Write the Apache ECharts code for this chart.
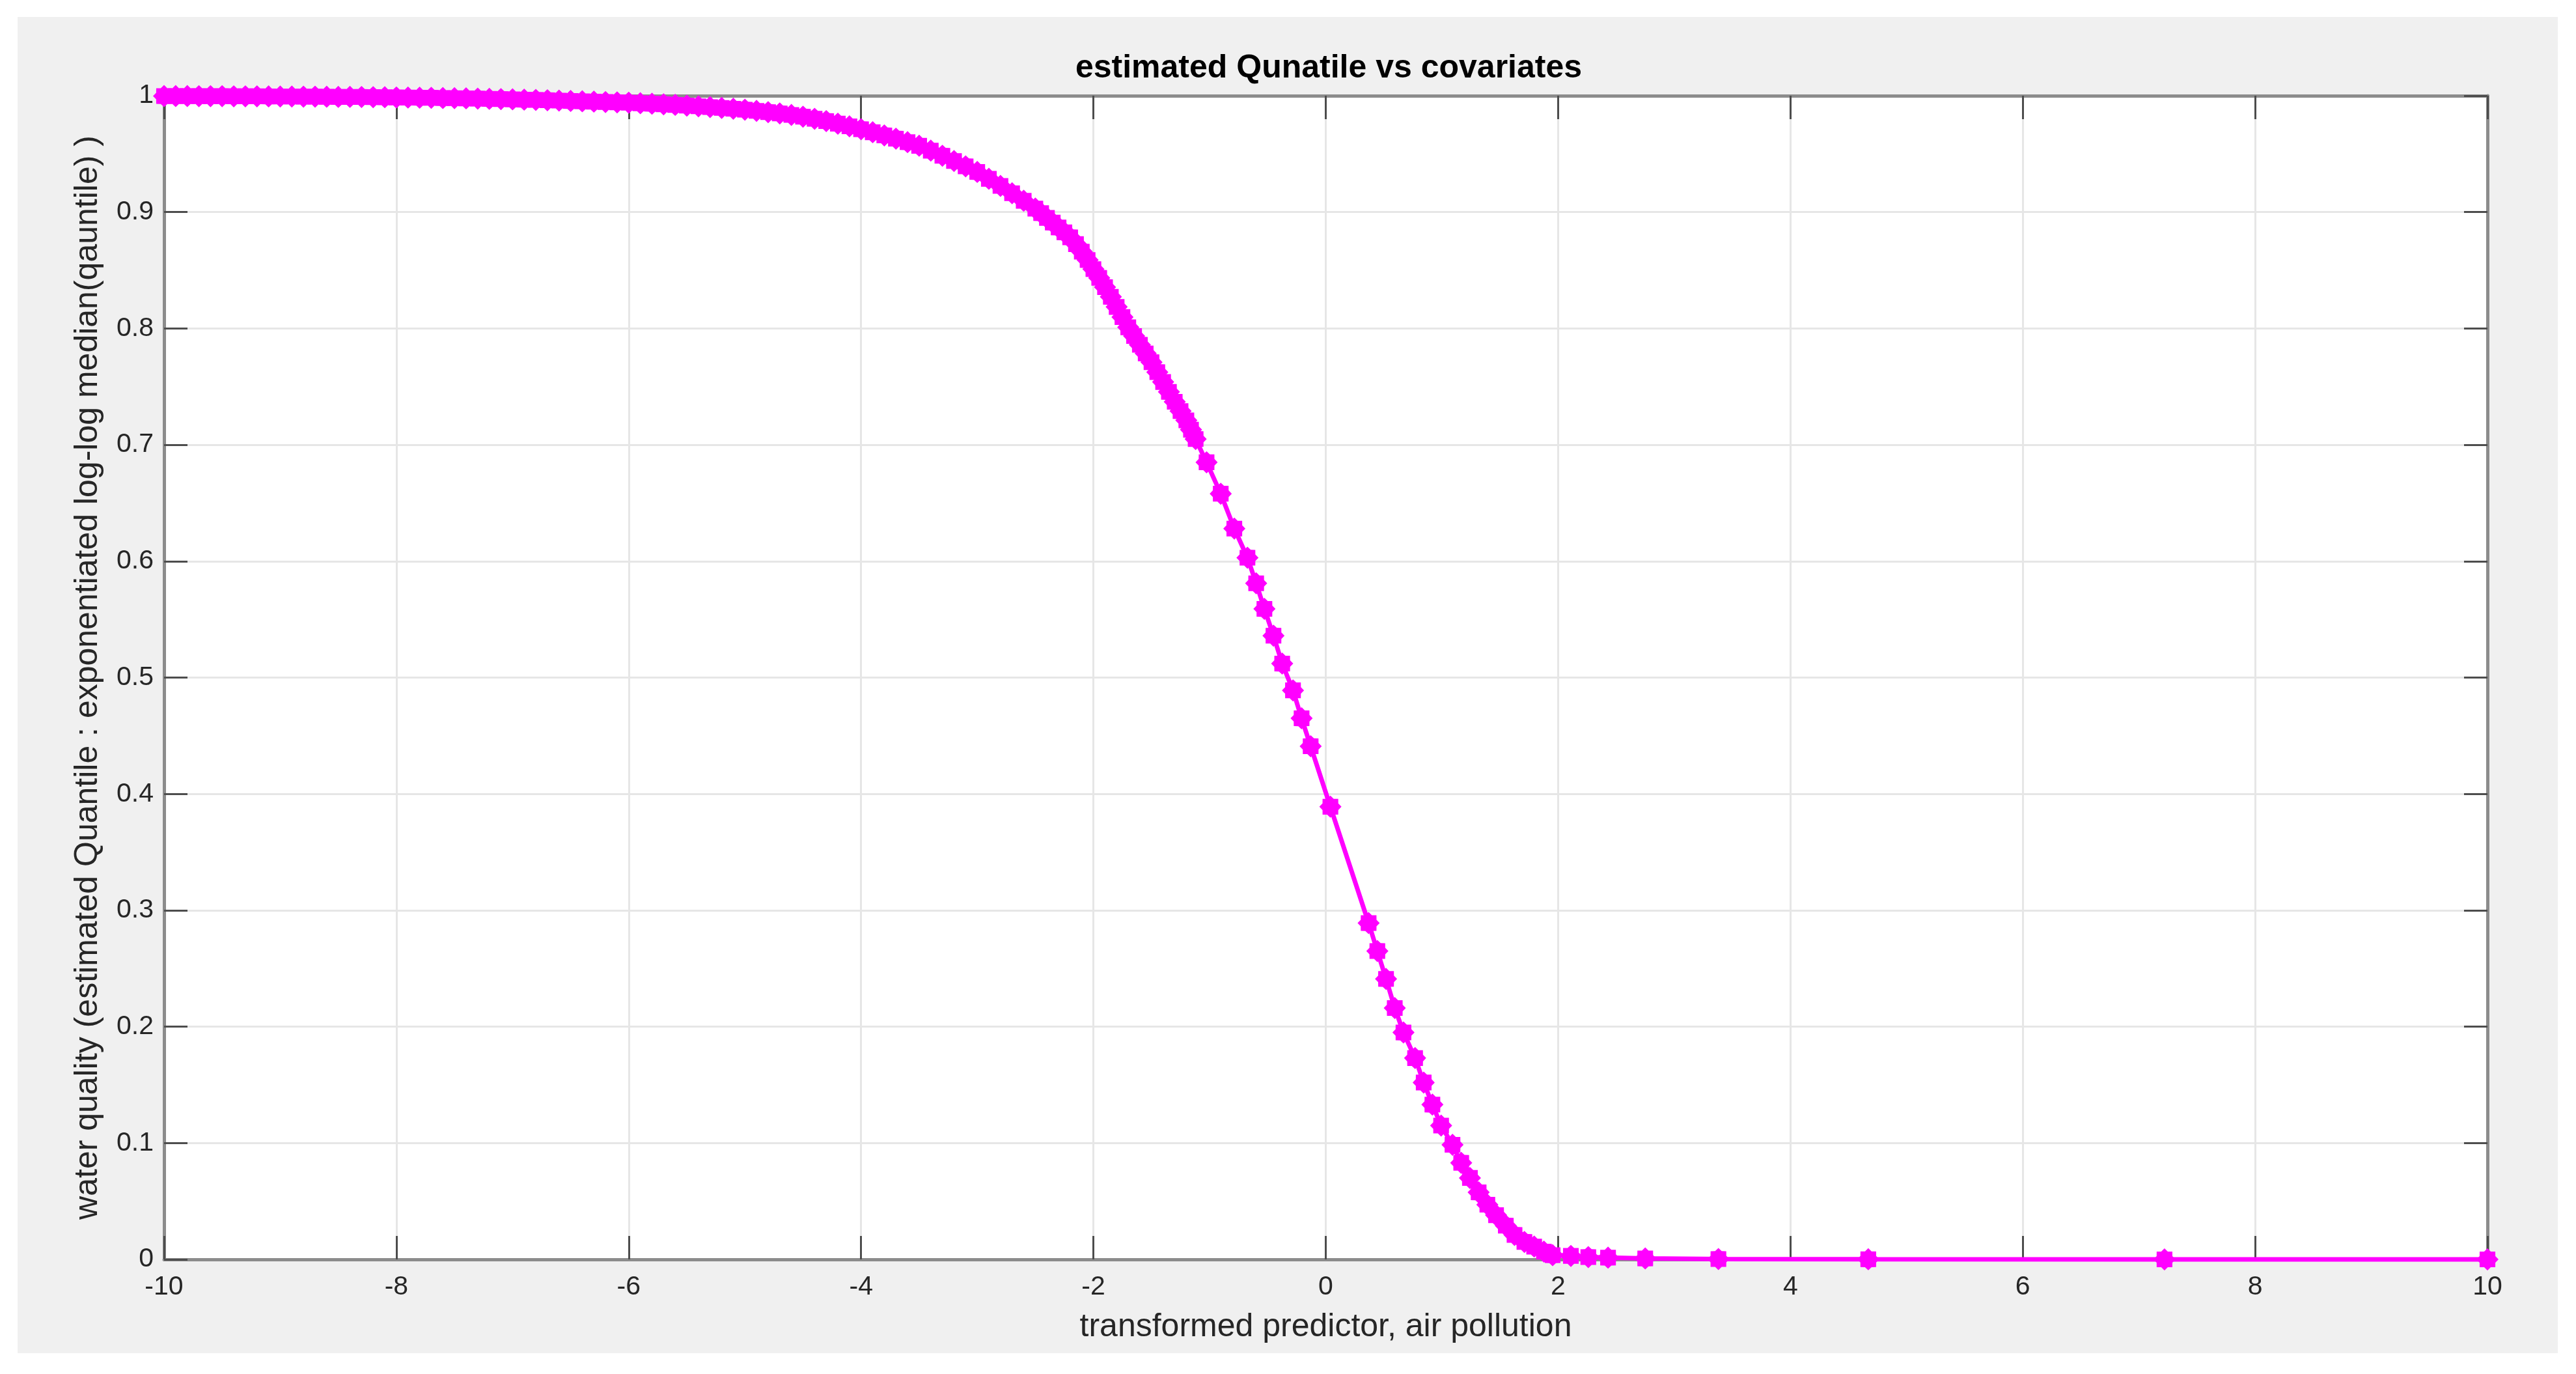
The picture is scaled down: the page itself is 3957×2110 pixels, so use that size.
<!DOCTYPE html>
<html>
<head>
<meta charset="utf-8">
<title>estimated Qunatile vs covariates</title>
<script src="https://cdn.jsdelivr.net/npm/echarts@6/dist/echarts.min.js"></script>
<style>
  html, body { margin: 0; padding: 0; background: #ffffff; }
  #chart { width: 3957px; height: 2110px; }
</style>
</head>
<body>
<div id="chart"></div>
<script>
// transformed predictor (x) and estimated quantile (y)
const xValues = [
  -10.0, -9.9, -9.8, -9.7, -9.6, -9.5, -9.4, -9.3, -9.2, -9.1,
  -9.0, -8.9, -8.8, -8.7, -8.6, -8.5, -8.4, -8.3, -8.2, -8.1,
  -8.0, -7.9, -7.8, -7.7, -7.6, -7.5, -7.4, -7.3, -7.2, -7.1,
  -7.0, -6.9, -6.8, -6.7, -6.6, -6.5, -6.4, -6.3, -6.2, -6.1,
  -6.0, -5.9, -5.8, -5.7, -5.6, -5.5, -5.4, -5.3, -5.2, -5.1,
  -5.0, -4.9, -4.8, -4.7, -4.6, -4.5, -4.4, -4.3, -4.2, -4.1,
  -4.0, -3.9, -3.8, -3.7, -3.6, -3.5, -3.4, -3.3, -3.2, -3.1,
  -3.0, -2.9, -2.8, -2.7, -2.6, -2.5, -2.45, -2.4, -2.35, -2.3,
  -2.25, -2.2, -2.15, -2.1, -2.05, -2.0, -1.95, -1.9, -1.85, -1.8,
  -1.75, -1.7, -1.65, -1.6, -1.55, -1.5, -1.45, -1.4, -1.35, -1.3,
  -1.25, -1.2, -1.16, -1.12,
  -1.026, -0.904, -0.787, -0.674, -0.599, -0.528, -0.450, -0.375, -0.282, -0.208,
  -0.130, 0.040, 0.369, 0.444, 0.519, 0.594, 0.669, 0.769, 0.843, 0.918,
  0.993, 1.091, 1.166, 1.241, 1.316, 1.391, 1.466, 1.550, 1.625, 1.710,
  1.794, 1.878, 1.953, 2.11, 2.26, 2.43, 2.75, 3.38, 4.67, 7.22,
  10.0
];
const yValues = [
  0.9997, 0.9997, 0.9997, 0.9996, 0.9996, 0.9996, 0.9995, 0.9995, 0.9995, 0.9994,
  0.9993, 0.9993, 0.9992, 0.9992, 0.9991, 0.9990, 0.9990, 0.9989, 0.9988, 0.9987,
  0.9985, 0.9984, 0.9983, 0.9982, 0.9980, 0.9979, 0.9977, 0.9975, 0.9973, 0.9971,
  0.9969, 0.9966, 0.9964, 0.9961, 0.9958, 0.9955, 0.9952, 0.9949, 0.9946, 0.9943,
  0.9940, 0.9935, 0.9931, 0.9926, 0.9921, 0.9915, 0.9909, 0.9902, 0.9895, 0.9888,
  0.9880, 0.9870, 0.9859, 0.9848, 0.9835, 0.9820, 0.9802, 0.9782, 0.9760, 0.9737,
  0.9712, 0.9686, 0.9659, 0.9631, 0.9601, 0.9570, 0.9528, 0.9484, 0.9439, 0.9393,
  0.9345, 0.9286, 0.9225, 0.9162, 0.9097, 0.9030, 0.8991, 0.8950, 0.8910, 0.8868,
  0.8826, 0.8783, 0.8725, 0.8660, 0.8588, 0.8510, 0.8435, 0.8355, 0.8272, 0.8185,
  0.8098, 0.8010, 0.7935, 0.7860, 0.7785, 0.7710, 0.7625, 0.7540, 0.7455, 0.7370,
  0.7290, 0.7210, 0.7130, 0.7050,
  0.685, 0.658, 0.628, 0.603, 0.581, 0.559, 0.536, 0.512, 0.489, 0.465,
  0.441, 0.389, 0.289, 0.265, 0.241, 0.216, 0.195, 0.173, 0.152, 0.133,
  0.115, 0.0985, 0.083, 0.070, 0.0576, 0.047, 0.038, 0.029, 0.021, 0.015,
  0.011, 0.0067, 0.0036, 0.003, 0.002, 0.0015, 0.0008, 0.0003, 0.0001, 0,
  0
];

const titleText = 'estimated Qunatile vs covariates';
const xAxisName = 'transformed predictor, air pollution';
const yAxisName = 'water quality (estimated Quantile : exponentiated log-log median(qauntile) )';

// matlab-like '*' marker, drawn as a bumpy 8-point blob
const starMarker = 'path://M100,50 L85.6,64.8 L85.4,85.4 L64.8,85.6 L50,100 L35.2,85.6 L14.6,85.4 L14.4,64.8 L0,50 L14.4,35.2 L14.6,14.6 L35.2,14.4 L50,0 L64.8,14.4 L85.4,14.6 L85.6,35.2 Z';

const chart = echarts.init(document.getElementById('chart'), null, { renderer: 'canvas' });

const fontFamily = '"Liberation Sans", Arial, sans-serif';
const axisColor = '#8c8c8c';
const tickStyle = { color: '#4d4d4d', width: 3 };
const gridLineStyle = { color: '#e6e6e6', width: 3 };

const boxAxis = {
    axisLine: { show: true, onZero: false, lineStyle: { color: axisColor, width: 5 } },
    axisTick: { show: true, inside: true, length: 36, lineStyle: tickStyle },
    axisLabel: { show: false },
    splitLine: { show: false },
};

const option = {
    backgroundColor: '#ffffff',
    animation: false,
    title: {
        text: titleText,
        left: 2036,
        textAlign: 'center',
        top: 75,
        textStyle: {
            fontFamily: fontFamily,
            fontSize: 50,
            fontWeight: 'bold',
            color: '#000000',
            lineHeight: 50,
        },
    },
    graphic: [
        {
            type: 'rect',
            z: -10,
            silent: true,
            shape: { x: 27, y: 26, width: 3902, height: 2052 },
            style: { fill: '#f0f0f0' },
        },
    ],
    grid: {
        left: 252,
        right: 136,
        top: 147,
        bottom: 176,
        show: true,
        backgroundColor: '#ffffff',
        borderWidth: 0,
    },
    xAxis: [
        {
            type: 'value',
            min: -10,
            max: 10,
            interval: 2,
            position: 'bottom',
            axisLine: { show: true, onZero: false, lineStyle: { color: axisColor, width: 5 } },
            axisTick: { show: true, inside: true, length: 36, lineStyle: tickStyle },
            axisLabel: { margin: 22, fontSize: 41, color: '#262626', fontFamily: fontFamily },
            splitLine: { show: true, lineStyle: gridLineStyle },
            name: xAxisName,
            nameLocation: 'middle',
            nameGap: 79,
            nameTextStyle: { fontSize: 50, color: '#262626', fontFamily: fontFamily },
        },
        Object.assign({ type: 'value', min: -10, max: 10, interval: 2, position: 'top' }, boxAxis),
    ],
    yAxis: [
        {
            type: 'value',
            min: 0,
            max: 1,
            interval: 0.1,
            position: 'left',
            axisLine: { show: true, onZero: false, lineStyle: { color: axisColor, width: 5 } },
            axisTick: { show: true, inside: true, length: 36, lineStyle: tickStyle },
            axisLabel: { margin: 16, fontSize: 41, color: '#262626', fontFamily: fontFamily },
            splitLine: { show: true, lineStyle: gridLineStyle },
            name: yAxisName,
            nameLocation: 'middle',
            nameGap: 92,
            nameTextStyle: { fontSize: 50, color: '#262626', fontFamily: fontFamily },
        },
        Object.assign({ type: 'value', min: 0, max: 1, interval: 0.1, position: 'right' }, boxAxis),
    ],
    series: [
        {
            type: 'line',
            xAxisIndex: 0,
            yAxisIndex: 0,
            data: xValues.map((x, i) => [x, yValues[i]]),
            clip: false,
            symbol: starMarker,
            symbolSize: 34,
            showAllSymbol: true,
            lineStyle: { color: '#ff00ff', width: 7 },
            itemStyle: { color: '#ff00ff', borderWidth: 0 },
            z: 5,
        },
    ],
};

chart.setOption(option);
</script>
</body>
</html>
